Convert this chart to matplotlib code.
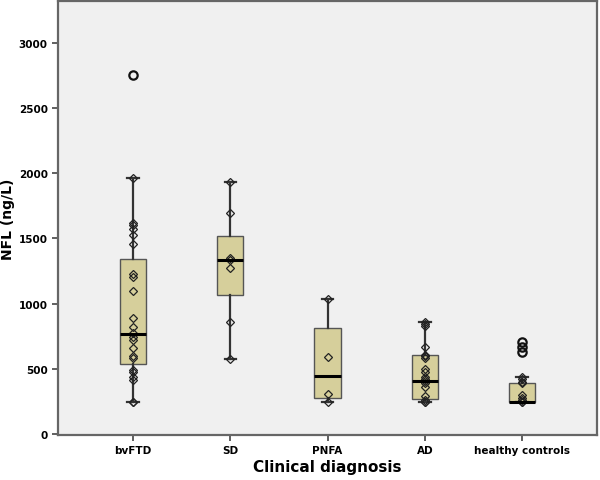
import numpy as np
import matplotlib.pyplot as plt

# groups on the x axis
groups = ['bvFTD', 'SD', 'PNFA', 'AD', 'healthy controls']

# box stats (whisker low, Q1, median, Q3, whisker high)
whis_lo = [245, 573, 243, 243, 243]
q1 = [537, 1069, 274, 269, 243]
med = [768, 1335, 449, 409, 248]
q3 = [1340, 1521, 814, 606, 391]
whis_hi = [1966, 1934, 1036, 857, 440]

# individual values (diamonds)
pts_bvftd = [1966, 1617, 1599, 1573, 1527, 1456, 1228, 1207, 1097, 888, 819,
             773, 742, 721, 657, 596, 583, 491, 478, 435, 417, 248, 245]
pts_sd = [1934, 1694, 1348, 1335, 1274, 860, 573]
pts_pnfa = [1036, 593, 305, 243]
pts_ad = [857, 845, 831, 665, 606, 596, 583, 499, 473, 440, 422, 409, 391,
          358, 294, 260, 243, 243]
pts_hc = [440, 420, 400, 391, 300, 280, 260, 248, 243]

# outliers (circles)
out_bvftd = [2755]
out_hc = [704, 665, 632]

points = [pts_bvftd, pts_sd, pts_pnfa, pts_ad, pts_hc]
outliers = [out_bvftd, [], [], [], out_hc]

stats = []
for i in range(len(groups)):
    stats.append({'whislo': whis_lo[i], 'q1': q1[i], 'med': med[i],
                  'q3': q3[i], 'whishi': whis_hi[i], 'fliers': []})

fig = plt.figure(figsize=(6, 4.81), dpi=100)
ax = fig.add_axes([0.097, 0.094, 0.898, 0.902])
ax.set_facecolor('#f0f0f0')

pos = np.arange(1, len(groups) + 1)
ax.bxp(stats, positions=pos, widths=0.27, patch_artist=True,
       showfliers=False,
       boxprops=dict(facecolor='#d6cf9b', edgecolor='#555555', linewidth=1),
       medianprops=dict(color='black', linewidth=2.2),
       whiskerprops=dict(color='#333333', linewidth=1.6),
       capprops=dict(color='#333333', linewidth=1.6),
       capwidths=0.12)

for i, p in enumerate(points):
    ax.plot([pos[i]] * len(p), p, linestyle='none', marker='D', markersize=4.5,
            markerfacecolor='none', markeredgecolor='#222222',
            markeredgewidth=0.9)
for i, o in enumerate(outliers):
    if o:
        ax.plot([pos[i]] * len(o), o, linestyle='none', marker='o',
                markersize=6, markerfacecolor='none',
                markeredgecolor='#111111', markeredgewidth=1.6)

ax.set_xlim(0.23, 5.77)
ax.set_ylim(-5, 3320)
ax.set_yticks([0, 500, 1000, 1500, 2000, 2500, 3000])
ax.set_xticks(pos)
ax.set_xticklabels(groups)
ax.tick_params(axis='both', labelsize=7.5, color='#444444', width=1.2,
               length=4, direction='out')
for lab in ax.get_xticklabels() + ax.get_yticklabels():
    lab.set_fontweight('semibold')
for s in ax.spines.values():
    s.set_color('#666666')
    s.set_linewidth(1.6)

ax.set_xlabel('Clinical diagnosis', fontsize=11, fontweight='bold', va='center')
ax.set_ylabel('NFL (ng/L)', fontsize=10, fontweight='bold', va='center')
ax.xaxis.set_label_coords(0.5, -0.074)
ax.yaxis.set_label_coords(-0.093, 0.5)

fig.savefig('out.png', dpi=100)
